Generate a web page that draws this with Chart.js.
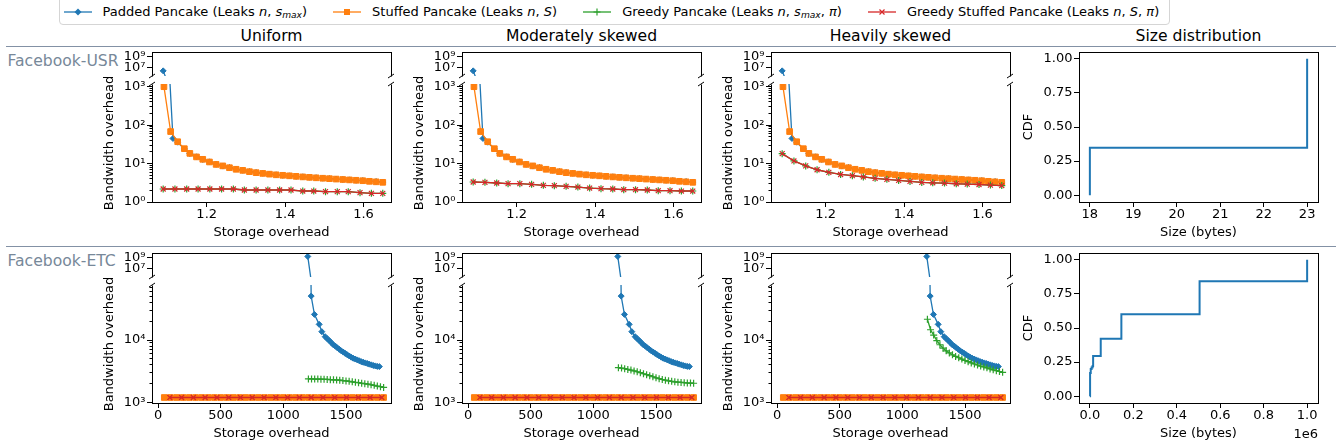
<!DOCTYPE html>
<html>
<head>
<meta charset="utf-8">
<title>Pancake bandwidth overhead</title>
<script src="https://cdn.jsdelivr.net/npm/chart.js@4.4.1/dist/chart.umd.min.js"></script>
<style>
html,body{margin:0;padding:0;background:#fff;}
#root{position:relative;width:1343px;height:448px;overflow:hidden;font-family:"DejaVu Sans",sans-serif;color:#000;}
#root canvas{position:absolute;}
.txt{position:absolute;white-space:nowrap;line-height:18px;}
.coltitle{font-size:15.6px;text-align:center;width:300px;}
.rowlabel{font-size:15.6px;color:#778899;}
.sep{position:absolute;left:6px;width:1330px;height:0;border-top:1.3px solid #8391a5;}
#legend{position:absolute;left:59px;top:-6px;width:1111px;height:31px;border:1px solid #d5d5d5;border-radius:4px;box-sizing:border-box;background:#fff;}
#legend .items{position:absolute;left:3.5px;top:8.7px;display:flex;gap:26px;}
#legend .item{display:flex;align-items:center;font-size:13px;line-height:16px;height:16px;white-space:nowrap;}
#legend svg{margin-right:11px;}
#legend sub{font-size:70%;vertical-align:-2px;line-height:0;}
.offset{position:absolute;font-size:13px;line-height:16px;text-align:right;}
</style>
</head>
<body>
<div id="root">
  <div id="legend"><div class="items">
    <div class="item"><svg width="28" height="12"><line x1="0" y1="6" x2="28" y2="6" stroke="#1f77b4" stroke-width="1.3"/><path d="M14 2.5 L17.5 6 L14 9.5 L10.5 6Z" fill="#1f77b4"/></svg><span>Padded Pancake (Leaks <i>n</i>, <i>s</i><sub><i>max</i></sub>)</span></div>
    <div class="item"><svg width="28" height="12"><line x1="0" y1="6" x2="28" y2="6" stroke="#ff7f0e" stroke-width="1.3"/><rect x="11" y="3" width="6" height="6" fill="#ff7f0e"/></svg><span>Stuffed Pancake (Leaks <i>n</i>, <i>S</i>)</span></div>
    <div class="item"><svg width="28" height="12"><line x1="0" y1="6" x2="28" y2="6" stroke="#2ca02c" stroke-width="1.3"/><path d="M10.5 6 H17.5 M14 2.5 V9.5" stroke="#2ca02c" stroke-width="1.2"/></svg><span>Greedy Pancake (Leaks <i>n</i>, <i>s</i><sub><i>max</i></sub>, <i>π</i>)</span></div>
    <div class="item"><svg width="28" height="12"><line x1="0" y1="6" x2="28" y2="6" stroke="#d62728" stroke-width="1.3"/><path d="M11.5 3.5 L16.5 8.5 M16.5 3.5 L11.5 8.5" stroke="#d62728" stroke-width="1.2"/></svg><span>Greedy Stuffed Pancake (Leaks <i>n</i>, <i>S</i>, <i>π</i>)</span></div>
  </div></div>
</div>
<script>
// ---------------- data ----------------
const colTitles = ['Uniform', 'Moderately skewed', 'Heavily skewed', 'Size distribution'];
const rowLabels = ['Facebook-USR', 'Facebook-ETC'];

// Facebook-USR : storage overhead (x) and bandwidth overhead (y)
const usrStuffedStorage = [1.091,1.108,1.126,1.143,1.157,1.174,1.190,1.207,1.224,1.241,1.258,1.275,1.292,1.309,1.326,1.343,1.360,1.377,1.394,1.411,1.428,1.445,1.462,1.479,1.496,1.513,1.530,1.547,1.564,1.581,1.598,1.615,1.632,1.649];
const usrStuffed = [1000,68,37,24.4,18.4,14.9,12.9,11.0,9.5,8.7,7.8,7.1,6.65,6.15,5.8,5.55,5.3,5.1,4.95,4.8,4.65,4.5,4.38,4.26,4.15,4.05,3.95,3.85,3.76,3.67,3.58,3.45,3.35,3.25];
const usrPaddedStorage = [1.089,1.114,1.126,1.143,1.157,1.174,1.190,1.207,1.224,1.241,1.258,1.275,1.292,1.309,1.326,1.343,1.360,1.377,1.394,1.411,1.428,1.445,1.462,1.479,1.496,1.513,1.530,1.547,1.564,1.581,1.598,1.615,1.632,1.649];
const usrPadded = [2.3e6,45,36,24,18.2,15,12.8,11.1,9.6,8.6,7.9,7.2,6.7,6.2,5.85,5.6,5.35,5.1,4.95,4.8,4.65,4.52,4.4,4.28,4.17,4.06,3.96,3.86,3.77,3.68,3.6,3.5,3.4,3.3];
const usrGreedyStorage = [1.089,1.119,1.149,1.178,1.208,1.238,1.268,1.296,1.326,1.356,1.386,1.415,1.445,1.473,1.503,1.533,1.561,1.591,1.620,1.649];
const usrGreedyUniform = [2.18,2.18,2.18,2.18,2.18,2.18,2.18,2.05,2.05,2.05,2.05,2.05,1.93,1.93,1.86,1.86,1.86,1.75,1.68,1.68];
const usrGreedyModerate = [3.31,3.25,3.12,3.0,3.0,2.88,2.71,2.66,2.55,2.45,2.31,2.22,2.18,2.09,2.09,2.05,1.97,1.97,1.93,1.93];
const usrGreedyHeavy = [18.1,11.7,8.7,6.9,5.9,5.2,4.84,4.48,4.12,3.88,3.65,3.44,3.24,3.16,3.1,2.98,2.92,2.85,2.75,2.68];

// Facebook-ETC
const etcStuffedStorage = [50,100,150,200,250,300,350,400,450,500,550,600,650,700,750,800,850,900,950,1000,1050,1100,1150,1200,1250,1300,1350,1400,1450,1500,1550,1600,1650,1700,1750,1800];
const etcStuffed = [1200,1200,1200,1200,1200,1200,1200,1200,1200,1200,1200,1200,1200,1200,1200,1200,1200,1200,1200,1200,1200,1200,1200,1200,1200,1200,1200,1200,1200,1200,1200,1200,1200,1200,1200,1200];
const etcGreedyStuffedStorage = [94,188,282,376,470,564,658,752,846,940,1034,1128,1222,1316,1410,1504,1598,1692,1786];
const etcGreedyStuffed = [1200,1200,1200,1200,1200,1200,1200,1200,1200,1200,1200,1200,1200,1200,1200,1200,1200,1200,1200];
const etcPaddedStorage = [1195,1222,1248,1286,1307,1334,1350,1366,1382,1398,1414,1430,1446,1462,1478,1494,1510,1526,1542,1558,1574,1590,1606,1622,1638,1654,1670,1686,1702,1718,1734,1750,1766];
const etcPadded = [1.8e9,50500,25700,17800,13600,11300,10500,9800,9100,8400,8000,7500,7100,6700,6400,6100,5800,5550,5300,5100,4950,4800,4650,4500,4400,4300,4200,4100,4000,3900,3850,3780,3750];
const etcGreedyStorage = [1200,1225,1250,1275,1300,1325,1350,1375,1400,1425,1450,1475,1500,1525,1550,1575,1600,1625,1650,1675,1700,1725,1750,1775,1800];
const etcGreedyUniform = [2380,2380,2370,2370,2360,2350,2340,2320,2300,2290,2270,2240,2210,2180,2140,2100,2070,2030,2000,1960,1920,1880,1830,1790,1740];
const etcGreedyModerate = [3600,3550,3480,3380,3300,3200,3100,3000,2880,2780,2680,2580,2480,2400,2330,2270,2220,2180,2140,2110,2090,2070,2050,2040,2030];
const etcGreedyHeavy = [21500,14600,12000,9800,8400,7400,6700,6200,5800,5450,5200,4950,4700,4500,4300,4130,3980,3830,3700,3580,3440,3330,3230,3130,3040];

// Size distributions (CDF)
const usrSizes = [18, 18, 23];
const usrCdf = [0, 0.347, 1.0];
const etcSizes = [0, 1000, 4000, 8000, 12000, 15000, 50000, 145000, 505000, 1000000];
const etcCdf = [0, 0.17, 0.20, 0.21, 0.22, 0.294, 0.422, 0.600, 0.843, 1.0];

// tick labels
const usrStorageTicks = [1.2, 1.4, 1.6];
const etcStorageTicks = [0, 500, 1000, 1500];
const usrBandwidthTicks = [1, 10, 100, 1000];
const etcBandwidthTicks = [1000, 10000];
const brokenTopTicks = [1e7, 1e9];
const usrSizeTicks = [18, 19, 20, 21, 22, 23];
const etcSizeTicks = [0, 200000, 400000, 600000, 800000, 1000000];
const cdfTicks = [0, 0.25, 0.5, 0.75, 1.0];

// ---------------- layout / style ----------------
Chart.defaults.font.family = '"DejaVu Sans", sans-serif';
Chart.defaults.font.size = 13;
Chart.defaults.color = '#000';

const root = document.getElementById('root');
const AXW = 64, PADT = 10, PADR = 14, XAXH = 46, TICKLEN = 5;
const COLX = [152, 462, 771];
const CDFX = 1079, PW = 239;
const ROWS = [
  {top: 52, topH: 24, bot: 84, botH: 118, x: {min: 1.0605, max: 1.670, ticks: usrStorageTicks, fmt: v => v.toFixed(1)},
   y: {min: 1, max: 1175, ticks: usrBandwidthTicks}},
  {top: 253, topH: 24, bot: 285, botH: 118, x: {min: -48, max: 1859, ticks: etcStorageTicks, fmt: v => String(v)},
   y: {min: 980, max: 76000, ticks: etcBandwidthTicks}}
];
const TOPY = {min: Math.pow(10, 5.4), max: Math.pow(10, 9.9)};

const SUP = {'0':'⁰','1':'¹','2':'²','3':'³','4':'⁴','5':'⁵','6':'⁶','7':'⁷','8':'⁸','9':'⁹','-':'⁻'};
function powLabel(v) {
  const e = Math.round(Math.log10(v));
  return '10' + String(e).split('').map(c => SUP[c]).join('');
}
function minorLog(min, max) {
  const out = [];
  for (let d = Math.floor(Math.log10(min)); d <= Math.ceil(Math.log10(max)); d++) {
    for (let k = 2; k <= 9; k++) out.push(k * Math.pow(10, d));
  }
  return out;
}
function alignPx(v) { return Math.round(v - 0.5) + 0.5; }

function framePlugin(spec) {
  return {
    id: 'frameDecor',
    afterDraw(chart) {
      const ctx = chart.ctx, a = chart.chartArea;
      const L = alignPx(a.left), R = alignPx(a.right), T = alignPx(a.top), B = alignPx(a.bottom);
      ctx.save();
      ctx.strokeStyle = '#000';
      ctx.lineWidth = 1;
      ctx.beginPath();
      if (spec.minor) {
        const s = chart.scales.y;
        spec.minor.forEach(v => {
          if (v <= s.min || v >= s.max) return;
          const p = alignPx(s.getPixelForValue(v));
          ctx.moveTo(L, p); ctx.lineTo(L - 3, p);
        });
      }
      if (spec.top) { ctx.moveTo(L - 0.5, T); ctx.lineTo(R + 0.5, T); }
      if (spec.bottom) { ctx.moveTo(L - 0.5, B); ctx.lineTo(R + 0.5, B); }
      ctx.moveTo(L, T); ctx.lineTo(L, B);
      ctx.moveTo(R, T); ctx.lineTo(R, B);
      ctx.stroke();
      if (spec.breakAt) {
        const y = spec.breakAt === 'bottom' ? a.bottom : a.top;
        ctx.beginPath();
        [a.left, a.right].forEach(x => { ctx.moveTo(x - 3, y + 2); ctx.lineTo(x + 3, y - 2); });
        ctx.stroke();
      }
      ctx.restore();
    }
  };
}

function addChart(o) {
  const showX = !!o.x.display;
  const xH = showX ? XAXH : 0;
  const padB = showX ? 0 : 10;
  const cl = o.area.l - AXW, ct = o.area.t - PADT;
  const cw = AXW + o.area.w + PADR, ch = PADT + o.area.h + xH + padB;
  const cv = document.createElement('canvas');
  cv.width = cw; cv.height = ch;
  Object.assign(cv.style, {left: cl + 'px', top: ct + 'px', width: cw + 'px', height: ch + 'px'});
  root.appendChild(cv);
  const tickGrid = {display: true, drawOnChartArea: false, drawTicks: true, tickLength: TICKLEN,
                    tickWidth: 1, tickColor: '#000', lineWidth: 1, color: '#000'};
  new Chart(cv, {
    type: 'line',
    data: {datasets: o.datasets},
    options: {
      responsive: false, animation: false, events: [],
      layout: {padding: {left: 0, top: PADT, right: PADR, bottom: padB}},
      plugins: {legend: {display: false}, tooltip: {enabled: false}, title: {display: false}},
      scales: {
        x: {
          type: 'linear', display: showX, min: o.x.min, max: o.x.max, bounds: 'data',
          afterFit: s => { s.height = xH; },
          afterBuildTicks: s => { s.ticks = o.x.ticks.map(v => ({value: v})); },
          ticks: {callback: o.x.fmt, padding: 0, autoSkip: false, maxRotation: 0, minRotation: 0, color: '#000', font: {size: 13}},
          grid: tickGrid, border: {display: false},
          title: {display: !!o.x.title, text: o.x.title, color: '#000', font: {size: 13}, padding: {top: 0, bottom: XAXH - 7.8 - 31}}
        },
        y: {
          type: o.y.type, min: o.y.min, max: o.y.max, bounds: 'data',
          afterFit: s => { s.width = AXW; },
          afterBuildTicks: s => { s.ticks = o.y.ticks.map(v => ({value: v})); },
          ticks: {callback: o.y.fmt, padding: 1.5, autoSkip: false, color: '#000', font: {size: 13}},
          grid: tickGrid, border: {display: false},
          title: {display: !!o.y.title, text: o.y.title, color: '#000', font: {size: 13},
                  padding: {top: (o.y.titleX || 0) - cl - 7.8, bottom: 0}}
        }
      }
    },
    plugins: [framePlugin(o.frame)]
  });
}

function pts(xs, ys) { return xs.map((x, i) => ({x: x, y: ys[i]})); }
const STY = {
  padded:  {borderColor: '#1f77b4', backgroundColor: '#1f77b4', pointBackgroundColor: '#1f77b4', pointBorderColor: '#1f77b4', pointStyle: 'rectRot', pointRadius: 3, pointBorderWidth: 1, borderWidth: 1.3, order: 4},
  stuffed: {borderColor: '#ff7f0e', backgroundColor: '#ff7f0e', pointBackgroundColor: '#ff7f0e', pointBorderColor: '#ff7f0e', pointStyle: 'rect', pointRadius: 4, pointBorderWidth: 1, borderWidth: 1.3, order: 3},
  greedy:  {borderColor: '#2ca02c', backgroundColor: '#2ca02c', pointBackgroundColor: '#2ca02c', pointBorderColor: '#2ca02c', pointStyle: 'cross', pointRadius: 3.5, pointBorderWidth: 1.2, borderWidth: 1.3, order: 2},
  greedyStuffed: {borderColor: '#d62728', backgroundColor: '#d62728', pointBackgroundColor: '#d62728', pointBorderColor: '#d62728', pointStyle: 'crossRot', pointRadius: 3.5, pointBorderWidth: 1.2, borderWidth: 1.3, order: 1}
};
function series(label, style, xs, ys) {
  return Object.assign({label: label, data: pts(xs, ys), fill: false, tension: 0}, STY[style]);
}

const panelData = [
  [ // Facebook-USR
    {padded: [usrPaddedStorage, usrPadded], stuffed: [usrStuffedStorage, usrStuffed], greedy: [usrGreedyStorage, usrGreedyUniform], greedyStuffed: [usrGreedyStorage, usrGreedyUniform]},
    {padded: [usrPaddedStorage, usrPadded], stuffed: [usrStuffedStorage, usrStuffed], greedy: [usrGreedyStorage, usrGreedyModerate], greedyStuffed: [usrGreedyStorage, usrGreedyModerate]},
    {padded: [usrPaddedStorage, usrPadded], stuffed: [usrStuffedStorage, usrStuffed], greedy: [usrGreedyStorage, usrGreedyHeavy], greedyStuffed: [usrGreedyStorage, usrGreedyHeavy]}
  ],
  [ // Facebook-ETC
    {padded: [etcPaddedStorage, etcPadded], stuffed: [etcStuffedStorage, etcStuffed], greedy: [etcGreedyStorage, etcGreedyUniform], greedyStuffed: [etcGreedyStuffedStorage, etcGreedyStuffed]},
    {padded: [etcPaddedStorage, etcPadded], stuffed: [etcStuffedStorage, etcStuffed], greedy: [etcGreedyStorage, etcGreedyModerate], greedyStuffed: [etcGreedyStuffedStorage, etcGreedyStuffed]},
    {padded: [etcPaddedStorage, etcPadded], stuffed: [etcStuffedStorage, etcStuffed], greedy: [etcGreedyStorage, etcGreedyHeavy], greedyStuffed: [etcGreedyStuffedStorage, etcGreedyStuffed]}
  ]
];
const seriesNames = {padded: 'Padded Pancake', stuffed: 'Stuffed Pancake', greedy: 'Greedy Pancake', greedyStuffed: 'Greedy Stuffed Pancake'};
function datasetsFor(p) {
  return ['padded', 'stuffed', 'greedy', 'greedyStuffed'].map(k => series(seriesNames[k], k, p[k][0], p[k][1]));
}

// separators, row labels, column titles
[46.3, 246.7].forEach(y => {
  const d = document.createElement('div'); d.className = 'sep'; d.style.top = (y - 0.65) + 'px'; root.appendChild(d);
});
rowLabels.forEach((t, r) => {
  const d = document.createElement('div'); d.className = 'txt rowlabel'; d.textContent = t;
  d.style.left = '7.5px'; d.style.top = (51.8 + r * 200.4) + 'px'; root.appendChild(d);
});
colTitles.forEach((t, c) => {
  const cx = (c < 3 ? COLX[c] : CDFX) + PW / 2;
  const d = document.createElement('div'); d.className = 'txt coltitle'; d.textContent = t;
  d.style.left = (cx - 150) + 'px'; d.style.top = '26.6px'; root.appendChild(d);
});

// bandwidth panels (broken y axis)
ROWS.forEach((row, r) => {
  COLX.forEach((lx, c) => {
    const p = panelData[r][c];
    addChart({
      area: {l: lx, t: row.top, w: PW, h: row.topH},
      x: {display: false, min: row.x.min, max: row.x.max, ticks: row.x.ticks, fmt: row.x.fmt},
      y: {type: 'logarithmic', min: TOPY.min, max: TOPY.max, ticks: brokenTopTicks, fmt: powLabel},
      datasets: datasetsFor(p),
      frame: {top: true, bottom: false, breakAt: 'bottom'}
    });
    addChart({
      area: {l: lx, t: row.bot, w: PW, h: row.botH},
      x: {display: true, min: row.x.min, max: row.x.max, ticks: row.x.ticks, fmt: row.x.fmt, title: 'Storage overhead'},
      y: {type: 'logarithmic', min: row.y.min, max: row.y.max, ticks: row.y.ticks, fmt: powLabel,
          title: 'Bandwidth overhead', titleX: lx - 42.8},
      datasets: datasetsFor(p),
      frame: {top: false, bottom: true, breakAt: 'top', minor: minorLog(row.y.min, row.y.max)}
    });
  });
});

// size distribution panels
const cdfRows = [
  {t: 52, sizes: usrSizes, cdf: usrCdf, min: 17.75, max: 23.25, ticks: usrSizeTicks, fmt: v => String(v)},
  {t: 253, sizes: etcSizes, cdf: etcCdf, min: -50000, max: 1050000, ticks: etcSizeTicks, fmt: v => (v / 1e6).toFixed(1)}
];
cdfRows.forEach(cr => {
  addChart({
    area: {l: CDFX, t: cr.t, w: PW, h: 150},
    x: {display: true, min: cr.min, max: cr.max, ticks: cr.ticks, fmt: cr.fmt, title: 'Size (bytes)'},
    y: {type: 'linear', min: -0.05, max: 1.05, ticks: cdfTicks, fmt: v => v.toFixed(2), title: 'CDF', titleX: CDFX - 50.7},
    datasets: [{label: 'CDF', data: pts(cr.sizes, cr.cdf), stepped: 'before', borderColor: '#1f77b4', borderWidth: 2, pointRadius: 0, fill: false}],
    frame: {top: true, bottom: true}
  });
});
const off = document.createElement('div');
off.className = 'offset'; off.textContent = '1e6';
off.style.right = (1343 - 1318) + 'px'; off.style.top = '426.2px';
root.appendChild(off);
</script>
</body>
</html>
